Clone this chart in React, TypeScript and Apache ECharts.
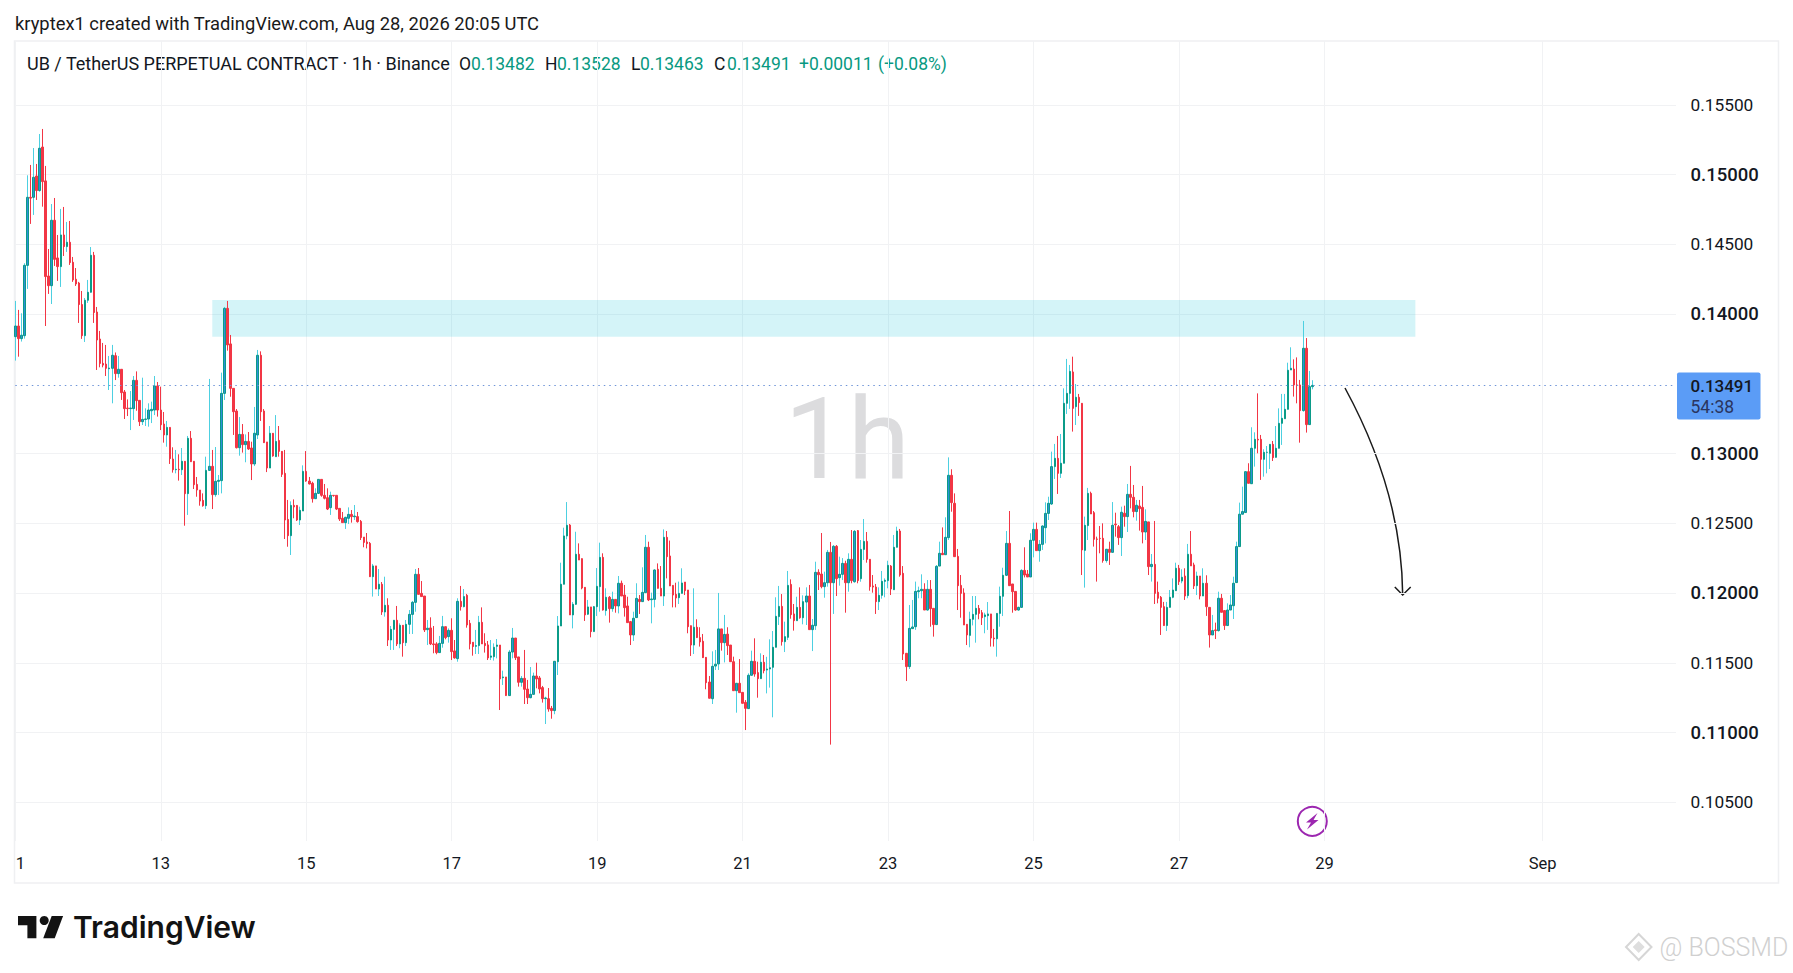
import React, { useEffect, useRef } from "react";
import * as echarts from "echarts";

// Price values, in 1e-5 units, one entry per hourly candle.
const opens = [
13846,13922,13832,13853,14355,14841,14841,14993,14889,15200,
14958,14279,14210,14677,14408,14346,14572,14489,14520,14377,
14256,14229,14075,13853,14106,14163,14427,14022,13829,13655,
13650,13617,13620,13710,13582,13613,13451,13336,13332,13332,
13534,13391,13239,13255,13258,13317,13322,13494,13322,13222,
13144,13198,12972,12896,12899,12896,12956,12725,13120,12956,
12791,12751,12677,12639,12891,12920,12718,12813,12818,13441,
14048,13794,13477,13315,13053,13148,13075,13098,13051,12937,
13144,13713,13315,13094,12908,13156,12989,13105,13027,12870,
12541,12425,12641,12641,12537,12601,12884,12815,12799,12689,
12727,12827,12713,12696,12625,12713,12713,12620,12549,12518,
12549,12577,12560,12561,12527,12415,12380,12370,12132,12209,
12044,12078,11880,11928,11680,11756,11821,11652,11785,11661,
11792,11863,11949,12149,12013,11994,11754,11766,11652,11652,
11590,11656,11775,11704,11749,11602,11547,11956,11918,11999,
11799,11664,11635,11640,11806,11656,11645,11557,11561,11635,
11644,11411,11416,11283,11594,11694,11559,11378,11406,11330,
11268,11292,11423,11409,11340,11261,11261,11192,11176,11525,
11780,12078,12423,12501,11859,11935,12292,12261,12056,11864,
11916,11740,11918,12061,12270,11890,11985,11904,11970,11923,
12085,12001,11923,11811,11716,11840,11970,11954,12018,12342,
11968,11970,12185,12049,11994,12413,12280,12070,12006,11982,
12013,12094,12037,11782,11644,11771,11697,11671,11556,11380,
11261,11494,11509,11759,11661,11722,11644,11525,11318,11371,
11306,11235,11190,11428,11528,11447,11404,11521,11466,11473,
11485,11628,11847,11920,11668,11699,12077,11866,11818,11913,
11839,11951,11994,11754,11782,12163,12151,12061,12089,12306,
12089,12349,12125,12149,12227,12089,12256,12096,12461,12118,
12327,12384,12256,12066,12058,11954,11999,12099,12104,12208,
12039,12342,12458,12156,11585,11490,11761,11775,12025,12032,
12042,11894,12042,11906,11790,12208,12299,12289,12411,12856,
12656,12277,12070,12016,11792,11713,11828,11863,11906,11875,
11847,11854,11866,11694,11689,11870,11992,12142,12370,12080,
12027,11894,11913,12177,12151,12130,12392,12470,12318,12363,
12482,12584,12651,12918,12977,12870,12942,13370,13441,13594,
13346,13413,13370,12320,12497,12727,12589,12401,12406,12406,
12247,12328,12306,12508,12489,12411,12585,12561,12720,12699,
12597,12637,12627,12451,12523,12204,12220,12021,11985,11918,
11783,11913,11985,12032,12192,12101,12137,11997,12292,12216,
12068,12137,11994,12085,11913,11716,11752,11747,11978,11890,
11783,11894,11925,12090,12347,12578,12590,12882,12796,13049,
13113,13113,12970,13020,13013,13077,12984,13049,13227,13260,
13327,13608,13615,13501,13501,13318,13763,13218,13489];

const closes = [
13922,13832,13856,14355,14841,14835,14984,14889,15191,14953,
14275,14210,14677,14398,14346,14572,14489,14520,14375,14251,
14222,14075,13853,14106,14163,14427,14018,13822,13655,13643,
13620,13622,13713,13582,13613,13446,13332,13332,13336,13534,
13389,13239,13255,13258,13322,13327,13494,13322,13217,13144,
13198,12975,12896,12899,12896,12956,12725,13120,12953,12789,
12751,12672,12639,12891,12920,12718,12813,12820,13441,14048,
13787,13477,13310,13053,13148,13075,13098,13044,12937,13156,
13713,13310,13089,12908,13156,12994,13098,13027,12863,12537,
12425,12641,12630,12537,12606,12884,12815,12794,12689,12727,
12827,12713,12692,12615,12713,12711,12615,12544,12518,12556,
12577,12561,12565,12525,12411,12377,12368,12132,12209,12044,
12078,11880,11928,11680,11756,11821,11652,11785,11661,11792,
11863,11949,12149,12006,11990,11752,11764,11652,11647,11590,
11656,11775,11697,11749,11597,11552,11956,11918,11990,11787,
11652,11633,11640,11806,11652,11640,11552,11566,11628,11644,
11402,11416,11283,11594,11694,11554,11378,11406,11328,11268,
11292,11423,11402,11330,11261,11266,11187,11176,11528,11780,
12078,12423,12499,11859,11935,12292,12251,12051,11859,11916,
11740,11918,12063,12270,11894,11985,11904,11970,11923,12085,
11994,11911,11804,11716,11835,11977,11954,12020,12342,11966,
11973,12180,12049,11994,12413,12275,12066,12001,11980,12013,
12087,12032,11775,11644,11771,11697,11666,11554,11375,11264,
11492,11507,11759,11661,11720,11640,11525,11318,11371,11304,
11228,11192,11428,11528,11437,11404,11521,11461,11473,11482,
11628,11849,11920,11668,11704,12070,11861,11818,11913,11839,
11954,11994,11754,11785,12163,12146,12061,12089,12306,12089,
12349,12118,12149,12227,12089,12256,12104,12456,12104,12327,
12384,12256,12061,12058,11954,11999,12099,12106,12213,12044,
12342,12458,12144,11580,11490,11763,11773,12027,12032,12042,
11894,12042,11904,11790,12206,12299,12289,12413,12856,12661,
12275,12068,12013,11787,11716,11828,11863,11906,11870,11839,
11859,11866,11694,11689,11870,11992,12142,12370,12068,12025,
11894,11913,12177,12144,12130,12392,12470,12318,12363,12494,
12584,12656,12918,12977,12870,12942,13370,13441,13598,13334,
13413,13375,12323,12499,12727,12580,12399,12399,12404,12247,
12328,12306,12499,12503,12411,12592,12561,12720,12699,12597,
12642,12618,12451,12527,12204,12220,12013,11978,11913,11783,
11913,11985,12037,12192,12097,12128,11994,12292,12209,12066,
12137,11994,12085,11918,11716,11747,11747,11978,11878,11783,
11894,11930,12085,12347,12578,12597,12882,12799,13049,13113,
13108,12970,13020,13020,13077,12982,13049,13227,13263,13327,
13606,13620,13501,13499,13318,13763,13218,13489,13498];

const highs = [
14101,14037,14013,14370,14998,15072,15193,15079,15293,15329,
15065,14472,14793,14836,14572,14758,14772,14665,14672,14415,
14336,14237,14172,14122,14251,14486,14451,14058,13887,13801,
13787,13708,13787,13733,13708,13613,13465,13398,13458,13565,
13598,13391,13553,13334,13370,13382,13565,13522,13489,13308,
13244,13198,13056,13037,13006,13051,12956,13137,13172,12956,
12844,12751,12727,12989,13544,13037,13058,12858,13589,14058,
14101,13858,13477,13329,13272,13222,13148,13165,13096,13344,
13751,13741,13329,13094,13208,13156,13286,13208,13027,13037,
12680,12670,12684,12641,12632,12927,13029,12844,12810,12763,
12827,12827,12794,12763,12739,12713,12713,12620,12594,12560,
12627,12608,12644,12594,12537,12415,12444,12380,12223,12209,
12187,12094,12132,11978,11780,11823,11923,11799,11785,11823,
11894,11959,12187,12194,12101,11994,11823,11842,11780,11664,
11709,11852,11775,11763,11835,11680,11978,12066,12044,12009,
11823,11664,11752,11852,11913,11728,11673,11680,11656,11687,
11644,11461,11416,11609,11766,11694,11559,11423,11609,11395,
11487,11447,11518,11423,11352,11275,11337,11209,11528,11851,
12232,12482,12665,12508,11951,12453,12370,12261,12056,11966,
11916,11923,12194,12375,12299,12049,11994,12025,11970,12137,
12104,12073,11989,11816,11882,12085,12001,12199,12430,12382,
12018,12185,12227,12208,12470,12458,12390,12070,12089,12097,
12192,12094,12037,11782,12049,11828,11771,11723,11556,11423,
11599,11609,12016,11759,11859,11771,11644,11561,11371,11544,
11306,11251,11442,11604,11692,11525,11585,11573,11560,11685,
11744,11985,12066,12008,11811,12173,12113,11937,11989,12056,
11999,12056,12073,11830,12239,12185,12444,12168,12323,12380,
12358,12358,12275,12265,12246,12299,12465,12465,12465,12394,
12544,12451,12256,12144,12080,12056,12173,12120,12246,12215,
12430,12489,12473,12208,11585,11930,11966,12097,12061,12149,
12085,12108,12108,11906,12215,12382,12484,12556,12984,12899,
12727,12330,12144,12049,11792,11882,11994,11994,11930,11894,
11875,11951,11866,11759,11870,12061,12196,12458,12601,12080,
12027,11918,12185,12342,12180,12442,12518,12518,12394,12499,
12663,12703,13025,13080,13137,13151,13477,13687,13644,13703,
13508,13437,13370,12561,12766,12739,12601,12418,12494,12513,
12328,12382,12665,12589,12501,12632,12639,12794,12923,12787,
12680,12680,12780,12613,12523,12294,12530,12097,11994,11952,
11952,12037,12120,12232,12216,12185,12192,12366,12458,12232,
12168,12137,12192,12142,11913,11859,11804,12025,12009,11894,
11942,12001,12132,12382,12661,12775,12882,12942,13199,13163,
13441,13144,13042,13065,13077,13101,13208,13334,13437,13437,
13660,13770,13684,13698,13537,13958,13836,13601,13535];

const lows = [
13675,13703,13811,13832,14187,14651,14715,14822,14881,14774,
13922,14151,14079,14351,14244,14201,14422,14451,14358,14237,
14208,13944,13830,13808,14087,14160,13944,13608,13627,13627,
13565,13465,13370,13536,13553,13394,13258,13279,13179,13251,
13317,13208,13215,13208,13203,13229,13286,13275,13179,13089,
13060,12937,12875,12870,12818,12858,12496,12573,12953,12758,
12703,12639,12632,12615,12887,12615,12703,12715,12727,13394,
13746,13417,13144,13048,12996,13018,12949,13037,12822,12922,
13115,13244,13089,12879,12908,12989,12989,12989,12844,12401,
12346,12287,12549,12530,12501,12601,12810,12791,12661,12689,
12722,12703,12684,12608,12573,12703,12608,12530,12518,12473,
12508,12518,12537,12518,12394,12342,12334,12132,11990,12044,
11994,11859,11847,11637,11609,11609,11637,11621,11561,11637,
11723,11723,11882,12006,11990,11737,11644,11644,11585,11578,
11590,11625,11685,11661,11537,11547,11525,11890,11913,11768,
11613,11568,11580,11580,11652,11590,11537,11537,11533,11549,
11180,11359,11283,11283,11549,11537,11347,11347,11223,11223,
11264,11290,11335,11299,11233,11080,11168,11118,11150,11430,
11780,12078,12399,11859,11763,11930,12251,12042,11816,11859,
11699,11740,11851,11882,11890,11854,11804,11882,11875,11870,
11994,11847,11804,11644,11673,11840,11866,11954,12018,11958,
11799,11913,12049,11994,11923,12120,12066,11913,11913,11937,
12013,12001,11728,11566,11580,11697,11633,11554,11328,11264,
11223,11466,11466,11604,11520,11573,11525,11318,11161,11304,
11228,11037,11190,11428,11418,11268,11404,11442,11299,11340,
11128,11628,11787,11640,11594,11680,11832,11747,11820,11832,
11792,11787,11754,11601,11752,12037,12049,11982,12061,10933,
11866,11994,12068,12108,11875,12025,12085,12089,12085,12096,
12251,12232,12032,12018,11866,11894,11975,11985,12049,12001,
12037,12342,12132,11537,11387,11473,11761,11752,11978,11978,
11894,11890,11775,11704,11790,12208,12287,12289,12394,12596,
12275,11894,11839,11787,11644,11628,11784,11661,11828,11787,
11728,11752,11633,11633,11561,11775,11851,12137,12068,11875,
11889,11889,11913,12127,12130,12130,12270,12318,12239,12323,
12370,12537,12644,12830,12723,12837,12942,13294,13330,13168,
13215,13280,12144,12054,12394,12580,12347,12097,12299,12232,
12232,12216,12306,12418,12359,12280,12489,12451,12620,12556,
12532,12461,12370,12394,12144,12097,11937,11942,11716,11783,
11744,11913,11978,12032,12073,12085,11966,11978,12209,12044,
12001,11970,11994,11852,11626,11716,11687,11740,11878,11752,
11783,11894,11830,12090,12347,12578,12590,12799,12796,12918,
13013,12823,12846,12870,12901,12958,12984,13049,13073,13260,
13327,13608,13418,13370,13089,13310,13161,13218,13470];

const tickHours = [0, 48, 96, 144, 192, 240, 288, 336, 384, 432, 504];
const tickLabels = ["1", "13", "15", "17", "19", "21", "23", "25", "27", "29", "Sep"];
const priceTicks = [0.105, 0.11, 0.115, 0.12, 0.125, 0.13, 0.14, 0.145, 0.15, 0.155];
const majorPriceTicks = ["0.11000", "0.12000", "0.13000", "0.14000", "0.15000"];
const lastPrice = 0.13491;
const zoneTop = 0.14102;
const zoneBottom = 0.13838;
const zoneStartHour = 65;
const zoneEndHour = 462;
const HOURS_ON_AXIS = 548;

const FONT = "Roboto";
// read scale -> price scale of the axis
const toPrice = (v: number) => (15500 - (15500 - v) * 1.00434) / 100000;

export default function App() {
  const ref = useRef<HTMLDivElement>(null);
  useEffect(() => {
    document.body.style.margin = "0";
    document.body.style.background = "#fff";
    const chart = echarts.init(ref.current!, undefined, { renderer: "svg" });
    const categories = Array.from({ length: HOURS_ON_AXIS + 1 }, (_, h) => {
      const i = tickHours.indexOf(h);
      return i >= 0 ? tickLabels[i] : "";
    });
    const O = opens.map(toPrice), C = closes.map(toPrice), L = lows.map(toPrice), H = highs.map(toPrice);
    const wickData = O.map((o, i) => [o, C[i], L[i], H[i]]);
    const bodyData = O.map((o, i) => [o, C[i], Math.min(o, C[i]), Math.max(o, C[i])]);
    const showTick = (index: number) => tickHours.includes(index);
    const legendDark = "#131722";
    const teal = "#089981";
    const t = (text: string, x: number, y: number, fill: string, fontSize = 17.5, extra: any = {}) => ({
      type: "text", x, y, silent: true,
      style: { text, fill, fontFamily: FONT, fontSize, textVerticalAlign: "middle", ...extra },
    });
    const option: any = {
      animation: false,
      backgroundColor: "#fff",
      grid: { left: 15.3, right: 117, top: 41, bottom: 132, containLabel: false },
      xAxis: {
        type: "category",
        data: categories,
        boundaryGap: false,
        axisLine: { show: false },
        axisTick: { show: false },
        axisLabel: {
          interval: (index: number) => showTick(index),
          hideOverlap: false,
          margin: 14,
          color: legendDark,
          fontFamily: FONT,
          fontSize: 16.5,
          formatter: (v: string) => (v === "1" ? "{first|1}" : v),
          rich: { first: { padding: [0, 0, 0, 10], fontFamily: FONT, fontSize: 16.5, color: legendDark } },
        },
        splitLine: { show: true, interval: (index: number) => showTick(index), lineStyle: { color: "#f1f2f4", width: 1 } },
      },
      yAxis: {
        type: "value",
        position: "right",
        min: 0.10222,
        max: 0.15959,
        scale: true,
        axisLine: { show: false },
        axisTick: { show: false, customValues: priceTicks },
        axisLabel: {
          customValues: priceTicks,
          margin: 14.5,
          color: legendDark,
          fontFamily: FONT,
          fontSize: 17,
          formatter: (v: number) => {
            const s = v.toFixed(5);
            return majorPriceTicks.includes(s) ? `{maj|${s}}` : `{min|${s}}`;
          },
          rich: {
            maj: { fontFamily: FONT, fontSize: 18.5, fontWeight: 500, color: legendDark },
            min: { fontFamily: FONT, fontSize: 17.3, color: legendDark },
          },
        },
        splitLine: { show: true, lineStyle: { color: "#f1f2f4", width: 1 } },
      },
      series: [
        {
          type: "candlestick",
          name: "wicks",
          data: wickData,
          barWidth: 1,
          itemStyle: { color: "#4dd0e1", color0: "#f23645", borderColor: "#4dd0e1", borderColor0: "#f23645", borderWidth: 1 },
          markArea: {
            silent: true,
            itemStyle: { color: "rgba(38,198,218,0.2)", borderWidth: 0 },
            data: [[{ xAxis: zoneStartHour, yAxis: zoneTop }, { xAxis: zoneEndHour, yAxis: zoneBottom }]],
          },
          markLine: {
            silent: true,
            symbol: "none",
            precision: 5,
            label: { show: false },
            lineStyle: { color: "#6f95d8", type: [1.5, 4], width: 1 },
            data: [{ yAxis: lastPrice }],
          },
        },
        {
          type: "candlestick",
          name: "bodies",
          data: bodyData,
          barWidth: 2,
          itemStyle: { color: "#2f8fd9", color0: "#f23645", borderColor: "#0b9b88", borderColor0: "#f23645", borderWidth: 1 },
        },
      ],
      graphic: [
        { type: "rect", silent: true, shape: { x: 14.5, y: 41, width: 1764, height: 842 }, style: { fill: "none", stroke: "#eff0f2", lineWidth: 1.5 } },
        { type: "text", x: 847, y: 439, silent: true, style: { text: "1h", fill: "#dcdcde", fontFamily: FONT, fontSize: 113, textAlign: "center", textVerticalAlign: "middle" } },
        t("kryptex1 created with TradingView.com, Aug 28, 2026 20:05 UTC", 15, 23, "#1a1a1a", 18.35),
        t("UB / TetherUS PERPETUAL CONTRACT · 1h · Binance", 27, 63.5, legendDark, 18),
        t("O", 459, 63.5, legendDark), t("0.13482", 471, 63.5, teal),
        t("H", 545, 63.5, legendDark), t("0.13528", 557, 63.5, teal),
        t("L", 631, 63.5, legendDark), t("0.13463", 640, 63.5, teal),
        t("C", 714, 63.5, legendDark), t("0.13491", 727, 63.5, teal),
        t("+0.00011", 799, 63.5, teal), t("(+0.08%)", 878, 63.5, teal),
        { type: "rect", silent: true, shape: { x: 1677, y: 372.5, width: 83.5, height: 47, r: 2 }, style: { fill: "#5b9cf6" } },
        t("0.13491", 1690.5, 386, "#131722", 17, { fontWeight: 500 }),
        t("54:38", 1690.5, 406.5, "#2a3560", 17.5),
        { type: "bezierCurve", silent: true, shape: { x1: 1345, y1: 388, cpx1: 1376, cpy1: 445, cpx2: 1402, cpy2: 515, x2: 1402.7, y2: 595 }, style: { stroke: "#1a1a1a", lineWidth: 1.5, fill: "none" } },
        { type: "polyline", silent: true, shape: { points: [[1394.8, 587], [1402.7, 595], [1410.7, 587]] }, style: { stroke: "#1a1a1a", lineWidth: 1.5, fill: "none" } },
        { type: "circle", silent: true, shape: { cx: 1312.3, cy: 821.3, r: 14.5 }, style: { fill: "#fff", stroke: "#9c27b0", lineWidth: 2 } },
        { type: "polygon", silent: true, shape: { points: [[1317.5, 813], [1306, 822.5], [1311, 822.5], [1307, 829.5], [1318.5, 820], [1313.5, 820]] }, style: { fill: "#9c27b0" } },
        { type: "polygon", silent: true, shape: { points: [[18, 916], [36.4, 916], [36.4, 938.3], [27.4, 938.3], [27.4, 925.2], [18, 925.2]] }, style: { fill: "#131313" } },
        { type: "circle", silent: true, shape: { cx: 44.2, cy: 920.5, r: 4.5 }, style: { fill: "#131313" } },
        { type: "polygon", silent: true, shape: { points: [[51.7, 916], [63.1, 916], [54.7, 938.3], [43.2, 938.3]] }, style: { fill: "#131313" } },
        { type: "text", x: 73, y: 927, silent: true, style: { text: "TradingView", fill: "#131313", fontFamily: "Inter", fontWeight: 600, fontSize: 30, textVerticalAlign: "middle" } },
        { type: "polygon", silent: true, shape: { points: [[1638.7, 934], [1651.5, 947], [1638.7, 960], [1626, 947]] }, style: { fill: "none", stroke: "#d6d6d6", lineWidth: 2 } },
        { type: "polygon", silent: true, shape: { points: [[1638.7, 941], [1644.7, 947], [1638.7, 953], [1632.7, 947]] }, style: { fill: "#dedede" } },
        { type: "text", x: 1659.5, y: 947.5, silent: true, style: { text: "@ BOSSMD", fill: "#d0d0d0", fontFamily: FONT, fontSize: 25, fontWeight: 300, textVerticalAlign: "middle" } },
      ],
    };
    chart.setOption(option);
    return () => chart.dispose();
  }, []);
  return <div ref={ref} style={{ position: "absolute", left: 0, top: 0, width: 1793, height: 973 }} />;
}
